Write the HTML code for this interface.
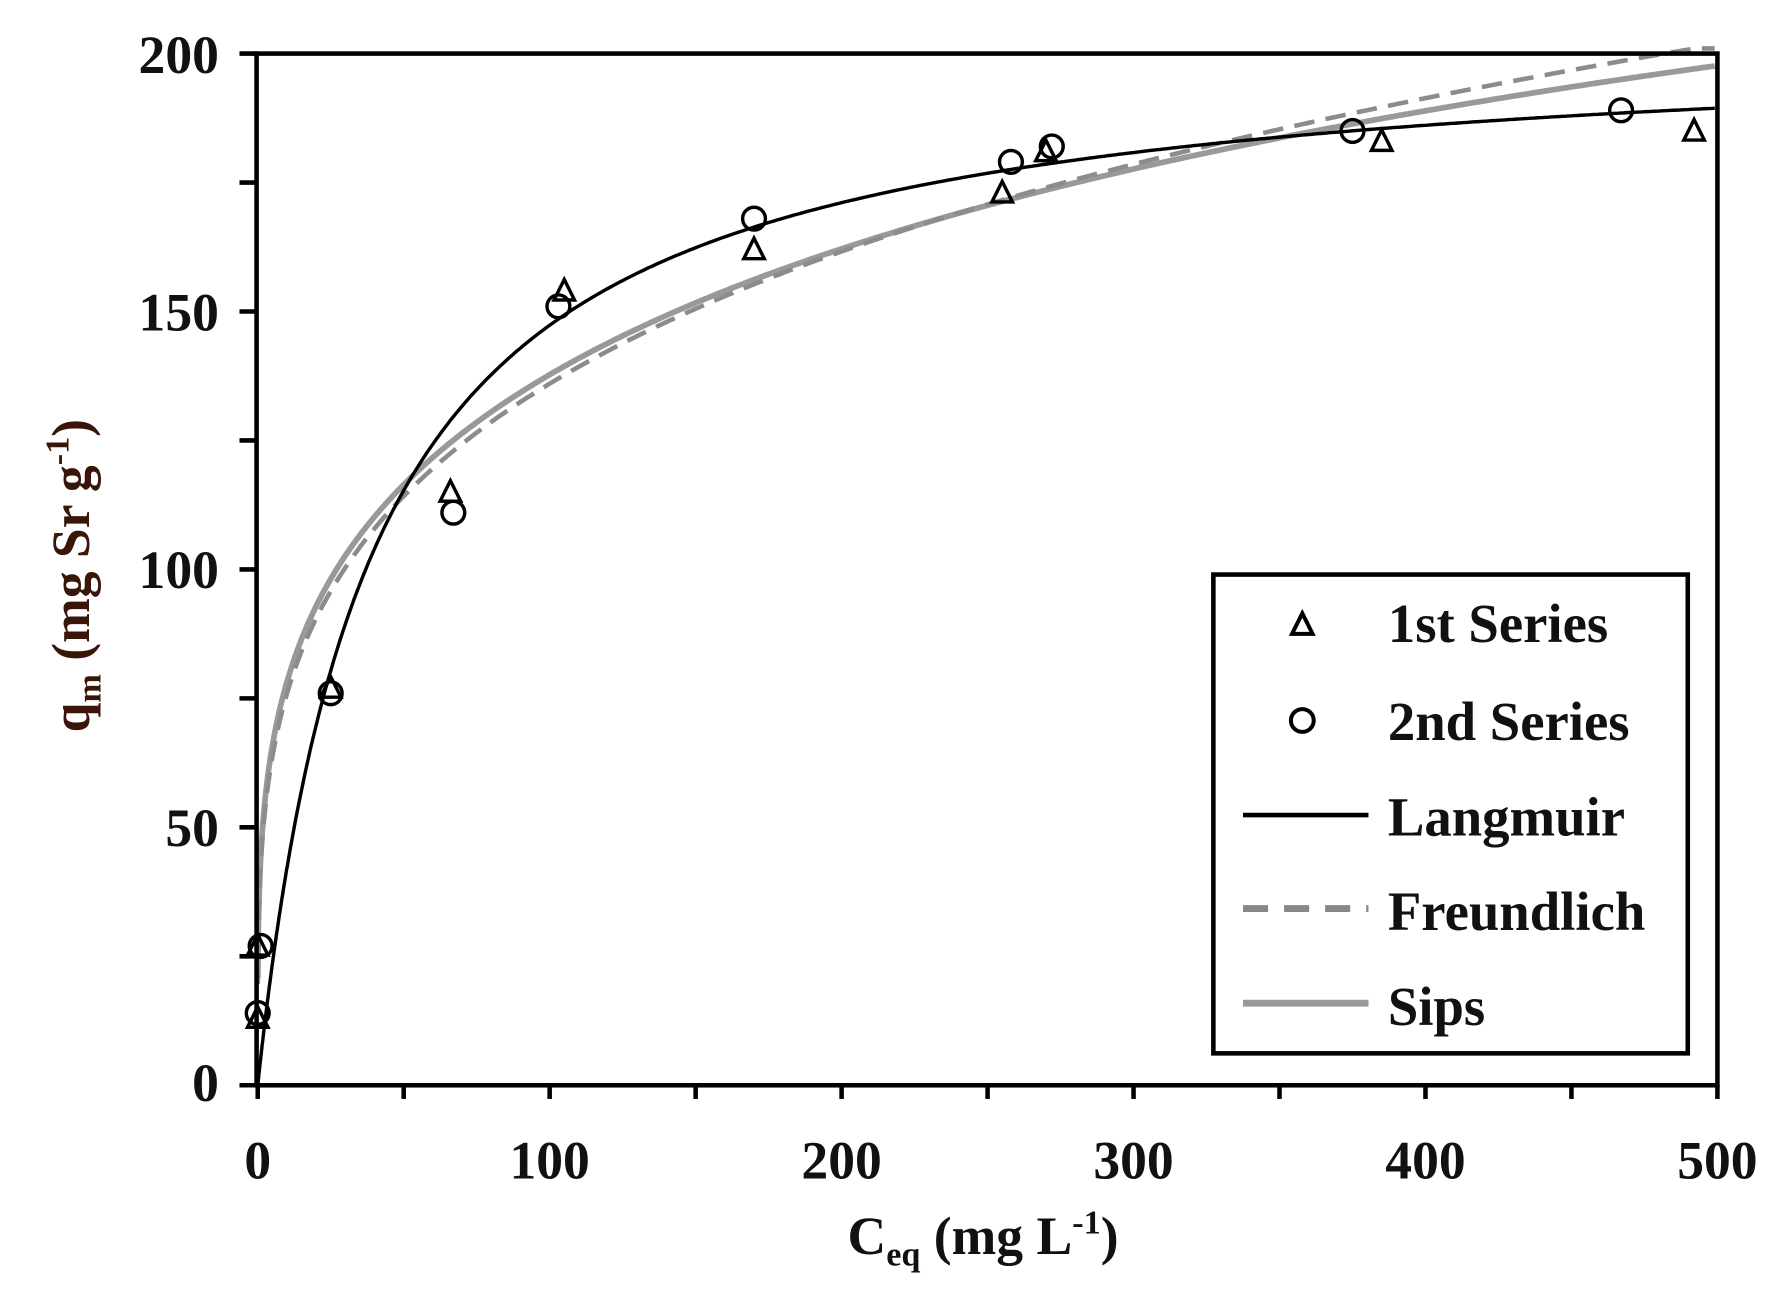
<!DOCTYPE html>
<html><head><meta charset="utf-8"><style>
html,body{margin:0;padding:0;background:#fff;}
svg{display:block;}
text{font-family:"Liberation Serif",serif;font-weight:bold;fill:#111;}
</style></head><body>
<svg id="s" width="1779" height="1303" viewBox="0 0 1560 1143" preserveAspectRatio="none" xmlns="http://www.w3.org/2000/svg">
<rect width="1560" height="1143" fill="#fff"/>
<g id="curves"></g>
<g id="pts" fill="none" stroke="#000" stroke-width="3"></g>
<rect x="225" y="47" width="1281" height="905" fill="none" stroke="#000" stroke-width="4"/>
<g stroke="#000" stroke-width="4" id="ticks"></g>
<g font-size="47" text-anchor="end">
<text x="192" y="966">0</text><text x="192" y="742">50</text><text x="192" y="516">100</text><text x="192" y="290">150</text><text x="192" y="64">200</text>
</g>
<g font-size="47" text-anchor="middle">
<text x="226" y="1034">0</text><text x="482" y="1034">100</text><text x="738" y="1034">200</text><text x="994" y="1034">300</text><text x="1250" y="1034">400</text><text x="1506" y="1034">500</text>
</g>
<text x="862" y="1100" font-size="47" text-anchor="middle">C<tspan font-size="30" dy="10">eq</tspan><tspan dy="-10"> (mg L</tspan><tspan font-size="30" dy="-18">-1</tspan><tspan dy="18">)</tspan></text>
<text transform="translate(78,505) rotate(-90)" font-size="47" text-anchor="middle" style="fill:#3a1608">q<tspan font-size="30" dy="10">m</tspan><tspan dy="-10"> (mg Sr g</tspan><tspan font-size="30" dy="-18">-1</tspan><tspan dy="18">)</tspan></text>
<rect x="1064" y="504" width="416" height="420" fill="#fff" stroke="#000" stroke-width="4"/>
<path d="M1142,538 L1133,556 L1151,556 Z" fill="none" stroke="#000" stroke-width="3.5"/>
<circle cx="1142" cy="632" r="10" fill="none" stroke="#000" stroke-width="3.5"/>
<line x1="1090" y1="715" x2="1200" y2="715" stroke="#000" stroke-width="4"/>
<line x1="1090" y1="797" x2="1200" y2="797" stroke="#888" stroke-width="6" stroke-dasharray="22,14"/>
<line x1="1090" y1="880" x2="1200" y2="880" stroke="#999" stroke-width="6"/>
<g font-size="48">
<text x="1217" y="563">1st Series</text>
<text x="1217" y="649">2nd Series</text>
<text x="1217" y="733">Langmuir</text>
<text x="1217" y="816">Freundlich</text>
<text x="1217" y="899">Sips</text>
</g>
</svg>
<script>
var NS="http://www.w3.org/2000/svg";
function X(c){return 226+c*2.56;}function Y(q){return 952-q*4.525;}
function mk(tag,a,p){var e=document.createElementNS(NS,tag);for(var k in a)e.setAttribute(k,a[k]);p.appendChild(e);return e;}
var t=document.getElementById('ticks');
for(var i=0;i<=10;i++){var x=X(i*50);mk('line',{x1:x,y1:952,x2:x,y2:964},t);}
for(var i=0;i<=8;i++){var y=Y(i*25);mk('line',{x1:210,y1:y,x2:226,y2:y},t);}
var cg=document.getElementById('curves');
function path(f,c0){var d='';for(var c=c0;c<=500;c+=(c<10?0.1:1)){var q=f(c);if(q>201)q=201;d+=(d?'L':'M')+X(c).toFixed(1)+','+Y(q).toFixed(1);}return d;}
mk('path',{d:path(function(c){return 44*Math.pow(c,0.25)*(1-0.0001*c);},0.05),fill:'none',stroke:'#999',"stroke-width":5},cg);
mk('path',{d:path(function(c){return 42.2*Math.pow(c,0.255)*(1-0.00004*c);},0.05),fill:'none',stroke:'#8c8c8c',"stroke-width":4,"stroke-dasharray":"18,10"},cg);
mk('path',{d:path(function(c){return 204*0.026*c/(1+0.026*c);},0),fill:'none',stroke:'#000',"stroke-width":3},cg);
var pg=document.getElementById('pts');
var tri=[[0,13],[0,27],[25,77],[66,115],[105,154],[170,162],[255,173],[270,181],[385,183],[492,185]];
var cir=[[0,14],[1,27],[25,76],[67,111],[103,151],[170,168],[258,179],[272,182],[375,185],[467,189]];
tri.forEach(function(p){var x=X(p[0]),y=Y(p[1]);mk('path',{d:'M'+x+','+(y-10)+'L'+(x-9)+','+(y+8)+'L'+(x+9)+','+(y+8)+'Z'},pg);});
cir.forEach(function(p){mk('circle',{cx:X(p[0]),cy:Y(p[1]),r:10},pg);});
</script>
</body></html>
